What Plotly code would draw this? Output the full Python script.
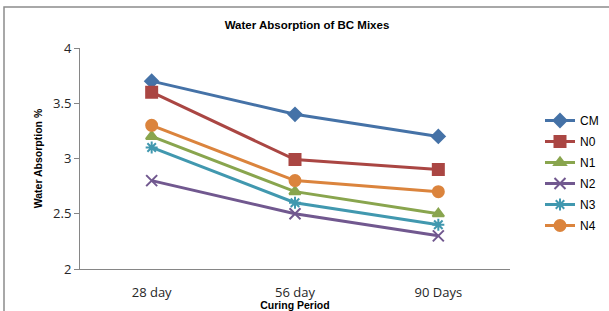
import plotly.graph_objects as go

categories = ["28 day", "56 day", "90 Days"]
series_names = ["CM", "N0", "N1", "N2", "N3", "N4"]
cm = [3.7, 3.4, 3.2]
n0 = [3.6, 2.99, 2.9]
n1 = [3.2, 2.7, 2.5]
n2 = [2.8, 2.5, 2.3]
n3 = [3.1, 2.6, 2.4]
n4 = [3.3, 2.8, 2.7]
y_ticks = [2, 2.5, 3, 3.5, 4]
y_tick_labels = ["2", "2.5", "3", "3.5", "4"]

values = [cm, n0, n1, n2, n3, n4]
colors = ["#4572A7", "#AA4643", "#89A54E", "#71588F", "#4198AF", "#DB843D"]
symbols = ["diamond", "square", "triangle-up", "x-thin-open", "asterisk-open", "circle"]
sizes = [10, 11, 10, 11, 10, 11]

fig = go.Figure()
for name, vals, c, s, sz in zip(series_names, values, colors, symbols, sizes):
    fig.add_trace(go.Scatter(
        x=categories, y=vals, name=name, mode="lines+markers", legendgroup=name,
        line=dict(color=c, width=3),
        marker=dict(symbol=s, size=sz, color=c, line=dict(color=c, width=2)),
    ))

L, R, T, B = 80, 510, 48, 269
W, H = 609, 311
pw, ph = R - L, B - T

fig.update_layout(
    width=W, height=H,
    margin=dict(l=L, r=W - R, t=T, b=H - B, autoexpand=False),
    paper_bgcolor="white", plot_bgcolor="white",
    title=dict(text="<b>Water Absorption of BC Mixes</b>", x=307 / W, xanchor="center",
               y=1 - 25 / H, yanchor="middle",
               font=dict(family="Liberation Sans, Arial", size=11.5, color="black")),
    xaxis=dict(
        showline=True, linecolor="#868686", linewidth=1, showgrid=False, automargin=False,
        ticks="outside", ticklen=11, tickcolor="rgba(0,0,0,0)",
        tickfont=dict(family="Open Sans, Lato", size=13, color="#262626"),
        title=dict(text="<b>Curing Period</b>", standoff=3,
                   font=dict(family="Liberation Sans, Arial", size=10.5, color="black")),
        range=[-0.5, 2.5],
    ),
    yaxis=dict(
        range=[2, 4], tickvals=y_ticks, ticktext=y_tick_labels, automargin=False,
        showline=True, linecolor="#868686", linewidth=1, showgrid=False, zeroline=False,
        ticks="outside", ticklen=5, tickcolor="#868686",
        tickfont=dict(family="Open Sans, Lato", size=13, color="#262626"),
        title=dict(text="<b>Water Absorption %</b>", standoff=8,
                   font=dict(family="Liberation Sans, Arial", size=10.5, color="black")),
    ),
    legend=dict(x=(540 - L) / pw, y=1 - (106 - T) / ph, xanchor="left", yanchor="top",
                font=dict(family="Liberation Sans, Arial", size=12, color="black"),
                bgcolor="rgba(0,0,0,0)", itemwidth=30, tracegroupgap=2),
    showlegend=True,
)

fig.add_shape(type="rect", xref="paper", yref="paper",
              x0=(4 - L) / pw, x1=(640 - L) / pw,
              y0=1 - (330 - T) / ph, y1=1 + (T - 7) / ph,
              line=dict(color="#8c8c8c", width=1.5), fillcolor="rgba(0,0,0,0)", layer="below")

fig.write_html("out.html", config={"displayModeBar": False},
               post_script="document.body.style.margin='0';")
